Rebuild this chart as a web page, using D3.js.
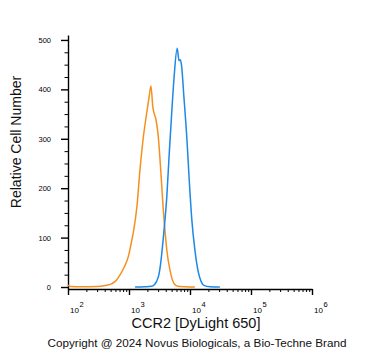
<!DOCTYPE html>
<html>
<head>
<meta charset="utf-8">
<script src="https://cdn.jsdelivr.net/npm/d3@7"></script>
<style>
  body { margin: 0; background: #fff; }
  svg { display: block; font-family: "Liberation Sans", Arial, sans-serif; }
</style>
</head>
<body>
<svg id="chart"></svg>
<script>
// isotype control (orange) - log10 intensity and cell counts
var orangeLog = [2.00, 2.04, 2.20, 2.47, 2.61, 2.72, 2.79, 2.85, 2.92, 2.99, 3.03, 3.07, 3.13, 3.18, 3.23, 3.29, 3.33, 3.36, 3.39, 3.41, 3.44, 3.48, 3.52, 3.56, 3.60, 3.62, 3.67, 3.71, 3.75, 3.80, 3.92, 4.08]
var orangeCount = [4, 1, 0.5, 1, 3, 7, 13, 24, 40, 62, 85, 110, 163, 237, 298, 352, 385, 407, 365, 352, 340, 304, 237, 160, 100, 75, 35, 15, 5, 1.5, 0.5, 0]

// CCR2 stained (blue)
var blueLog = [3.10, 3.26, 3.37, 3.41, 3.45, 3.49, 3.52, 3.57, 3.62, 3.66, 3.70, 3.74, 3.79, 3.82, 3.84, 3.86, 3.90, 3.95, 3.99, 4.03, 4.08, 4.14, 4.18, 4.22, 4.33, 4.49]
var blueCount = [0, 0.5, 1.5, 4, 11, 25, 49, 109, 183, 271, 352, 426, 483, 458, 460, 450, 385, 298, 211, 136, 75, 28, 12, 4, 0.5, 0]

var xDecades = [2, 3, 4, 5, 6]
var yTicks = [0, 100, 200, 300, 400, 500]

var dimensions = {
  width: 371,
  height: 351,
  left: 68,
  right: 312,
  top: 35,
  bottom: 289
}

var svg = d3.select("#chart")
  .attr("width", dimensions.width)
  .attr("height", dimensions.height)

var xScale = d3.scaleLog()
  .domain([1e2, 1e6])
  .range([dimensions.left, dimensions.right])

var yScale = d3.scaleLinear()
  .domain([-4, 510])
  .range([dimensions.bottom, dimensions.top])

// minor tick values
var xMinor = []
xDecades.slice(0, -1).forEach(function (d) {
  for (var k = 2; k <= 9; k++) xMinor.push(k * Math.pow(10, d))
})
var yMinor = d3.range(25, 501, 25).filter(v => v % 100 !== 0)

// y axis
var yAxis = svg.append("g")
  .attr("transform", `translate(${dimensions.left},0)`)
  .call(d3.axisLeft(yScale).tickValues(yTicks).tickSize(7).tickSizeOuter(0).tickPadding(10))
yAxis.selectAll("text").style("font-size", "7.5px").attr("fill", "#000")
yAxis.selectAll("line, path").attr("stroke", "#000").attr("stroke-width", 1.4)

svg.append("g")
  .attr("transform", `translate(${dimensions.left},0)`)
  .call(d3.axisLeft(yScale).tickValues(yMinor).tickSize(3.5).tickFormat(""))
  .call(g => g.select(".domain").remove())
  .selectAll("line").attr("stroke", "#000")

// x axis
var xAxis = svg.append("g")
  .attr("transform", `translate(0,${dimensions.bottom})`)
  .call(d3.axisBottom(xScale).tickValues(xDecades.map(d => Math.pow(10, d))).tickSize(6).tickSizeOuter(0).tickFormat(""))
xAxis.selectAll("line, path").attr("stroke", "#000").attr("stroke-width", 1.4)

svg.append("g")
  .attr("transform", `translate(0,${dimensions.bottom})`)
  .call(d3.axisBottom(xScale).tickValues(xMinor).tickSize(3).tickFormat(""))
  .call(g => g.select(".domain").remove())
  .selectAll("line").attr("stroke", "#000")

// decade labels 10^n
var labels = svg.append("g")
  .selectAll("text")
  .data(xDecades)
  .enter()
  .append("text")
  .attr("x", d => xScale(Math.pow(10, d)) + 2)
  .attr("y", 313)
  .style("font-size", "8px")
  .attr("fill", "#000")
labels.append("tspan").text("10")
labels.append("tspan")
  .attr("dy", -6)
  .attr("dx", 0.5)
  .style("font-size", "7.5px")
  .text(d => d)

// histogram lines
var line = d3.line()
  .x(d => xScale(Math.pow(10, d[0])))
  .y(d => yScale(d[1]))
  .curve(d3.curveMonotoneX)

svg.append("path")
  .datum(d3.zip(orangeLog, orangeCount))
  .attr("d", line)
  .attr("fill", "none")
  .attr("stroke", "#f5901e")
  .attr("stroke-width", 1.5)

svg.append("path")
  .datum(d3.zip(blueLog, blueCount))
  .attr("d", line)
  .attr("fill", "none")
  .attr("stroke", "#1d88e6")
  .attr("stroke-width", 1.5)

// titles
svg.append("text")
  .attr("x", 196)
  .attr("y", 328)
  .attr("text-anchor", "middle")
  .style("font-size", "14.5px")
  .attr("fill", "#111")
  .text("CCR2 [DyLight 650]")

svg.append("text")
  .attr("transform", "translate(21,142) rotate(-90)")
  .attr("text-anchor", "middle")
  .style("font-size", "14px")
  .attr("fill", "#111")
  .text("Relative Cell Number")

svg.append("text")
  .attr("x", 197)
  .attr("y", 347)
  .attr("text-anchor", "middle")
  .style("font-size", "11.7px")
  .attr("fill", "#111")
  .text("Copyright @ 2024 Novus Biologicals, a Bio-Techne Brand")
</script>
</body>
</html>
